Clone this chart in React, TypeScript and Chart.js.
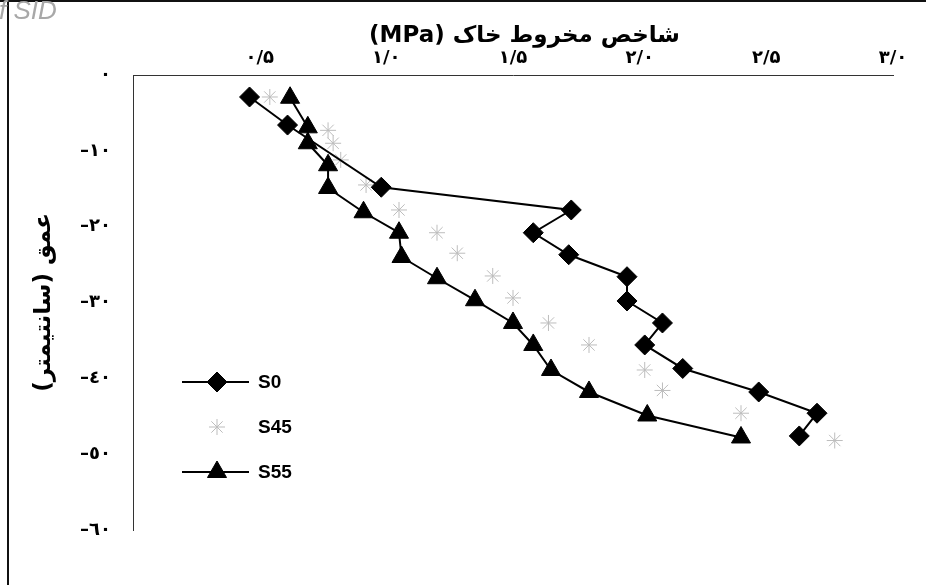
import React, { useEffect, useRef } from 'react';
import { Chart, registerables } from 'chart.js';
import { drawPoint } from 'chart.js/helpers';

Chart.register(...registerables);

const seriesNames = ['S0', 'S45', 'S55'];

const s0Depth = [-2.9, -6.6, -14.8, -17.8, -20.8, -23.7, -26.6, -29.8, -32.7, -35.6, -38.7, -41.8, -44.6, -47.6];
const s0Resistance = [0.46, 0.61, 0.98, 1.73, 1.58, 1.72, 1.95, 1.95, 2.09, 2.02, 2.17, 2.47, 2.7, 2.63];

const s45Depth = [-2.9, -7.3, -9.0, -11.2, -14.5, -17.8, -20.8, -23.5, -26.5, -29.4, -32.7, -35.6, -38.9, -41.6, -44.6, -48.2];
const s45Resistance = [0.54, 0.77, 0.79, 0.82, 0.92, 1.05, 1.2, 1.28, 1.42, 1.5, 1.64, 1.8, 2.02, 2.09, 2.4, 2.77];

const s55Depth = [-3.0, -6.9, -9.0, -11.9, -14.9, -18.1, -20.8, -24.0, -26.8, -29.7, -32.7, -35.6, -38.9, -41.8, -44.9, -47.8];
const s55Resistance = [0.62, 0.69, 0.69, 0.77, 0.77, 0.91, 1.05, 1.06, 1.2, 1.35, 1.5, 1.58, 1.65, 1.8, 2.03, 2.4];

const xTickLabels = ['', '۰/۵', '۱/۰', '۱/۵', '۲/۰', '۲/۵', '۳/۰'];
const yTickLabels = ['–٦٠', '–٥٠', '–٤٠', '–٣٠', '–٢٠', '–١٠', '٠'];

const xTitle = '\u2003(MPa) شاخص مخروط خاک';
const yTitle = '\u200Fعمق (سانتیمتر)\u200F';

const toPoints = (xs: number[], ys: number[]) => xs.map((x, i) => ({ x, y: ys[i] }));

const decorPlugin = {
  id: 'decor',
  beforeDraw(chart: any) {
    const { ctx, width, height } = chart;
    ctx.save();
    ctx.fillStyle = '#fff';
    ctx.fillRect(0, 0, width, height);
    ctx.strokeStyle = '#111';
    ctx.lineWidth = 2;
    ctx.beginPath();
    ctx.moveTo(8, 0);
    ctx.lineTo(8, height);
    ctx.moveTo(0, 1);
    ctx.lineTo(width, 1);
    ctx.stroke();
    ctx.fillStyle = '#a8a8a8';
    ctx.font = 'italic 26px "Liberation Sans Narrow", "Liberation Sans", sans-serif';
    ctx.textBaseline = 'alphabetic';
    ctx.fillText('f SID', -1, 19);
    ctx.restore();
  },
};

const legendPlugin = {
  id: 'insideLegend',
  afterDatasetsDraw(chart: any) {
    const { ctx, chartArea } = chart;
    const x0 = chartArea.left + 49;
    const x1 = chartArea.left + 116;
    const xm = chartArea.left + 84;
    const xt = chartArea.left + 125;
    chart.data.datasets.forEach((ds: any, i: number) => {
      const y = chartArea.top + 307 + i * 45;
      ctx.save();
      if (ds.showLine !== false) {
        ctx.strokeStyle = ds.borderColor;
        ctx.lineWidth = ds.borderWidth;
        ctx.beginPath();
        ctx.moveTo(x0, y);
        ctx.lineTo(x1, y);
        ctx.stroke();
      }
      ctx.fillStyle = ds.pointBackgroundColor;
      ctx.strokeStyle = ds.pointBorderColor;
      ctx.lineWidth = ds.pointBorderWidth;
      drawPoint(ctx, { pointStyle: ds.pointStyle, radius: ds.pointRadius, rotation: 0, borderWidth: ds.pointBorderWidth } as any, xm, y);
      ctx.fillStyle = '#000';
      ctx.font = 'bold 19px "Liberation Sans", Arial, sans-serif';
      ctx.textAlign = 'left';
      ctx.textBaseline = 'middle';
      ctx.fillText(ds.label, xt, y + 1);
      ctx.restore();
    });
  },
};

export default function App() {
  const canvasRef = useRef<HTMLCanvasElement | null>(null);

  useEffect(() => {
    if (!canvasRef.current) return;
    const chart = new Chart(canvasRef.current, {
      type: 'scatter',
      data: {
        datasets: [
          {
            label: seriesNames[0],
            data: toPoints(s0Resistance, s0Depth),
            showLine: true,
            borderColor: '#000',
            borderWidth: 2,
            pointStyle: 'rectRot',
            pointRadius: 10,
            pointHoverRadius: 10,
            pointBackgroundColor: '#000',
            pointBorderColor: '#000',
            pointBorderWidth: 1,
          },
          {
            label: seriesNames[1],
            data: toPoints(s45Resistance, s45Depth),
            showLine: false,
            borderColor: '#c0c0c0',
            borderWidth: 1,
            pointStyle: 'star',
            pointRadius: 8,
            pointHoverRadius: 8,
            pointBackgroundColor: '#c0c0c0',
            pointBorderColor: '#bdbdbd',
            pointBorderWidth: 1,
          },
          {
            label: seriesNames[2],
            data: toPoints(s55Resistance, s55Depth),
            showLine: true,
            borderColor: '#000',
            borderWidth: 2,
            pointStyle: 'triangle',
            pointRadius: 11,
            pointHoverRadius: 11,
            pointBackgroundColor: '#000',
            pointBorderColor: '#000',
            pointBorderWidth: 1,
          },
        ],
      },
      options: {
        responsive: false,
        animation: false,
        layout: { padding: { top: 0, left: 0, right: 33, bottom: 55 } },
        plugins: {
          legend: { display: false },
          tooltip: { enabled: false },
        },
        elements: { line: { tension: 0 } },
        scales: {
          x: {
            type: 'linear',
            position: 'top',
            min: 0,
            max: 3,
            ticks: {
              stepSize: 0.5,
              autoSkip: false,
              maxRotation: 0,
              padding: 6,
              color: '#000',
              font: { family: '"DejaVu Sans", sans-serif', size: 18, weight: 'bold' },
              callback: (v: any) => xTickLabels[Math.round(Number(v) / 0.5)] ?? '',
            },
            grid: { display: false, drawTicks: false },
            border: { display: true, color: '#333', width: 1 },
            title: {
              display: true,
              text: xTitle,
              color: '#000',
              font: { family: '"DejaVu Sans", sans-serif', size: 23, weight: 'bold' },
              padding: { top: 22, bottom: 0 },
            },
            afterFit: (scale: any) => {
              scale.height = 75;
            },
          },
          y: {
            type: 'linear',
            min: -60,
            max: 0,
            ticks: {
              stepSize: 10,
              padding: 22,
              color: '#000',
              font: { family: '"DejaVu Sans", sans-serif', size: 18, weight: 'bold' },
              callback: (v: any) => yTickLabels[Math.round((Number(v) + 60) / 10)] ?? '',
            },
            grid: { display: false, drawTicks: false },
            border: { display: true, color: '#333', width: 1 },
            title: {
              display: true,
              text: yTitle,
              color: '#000',
              font: { family: '"DejaVu Sans", sans-serif', size: 23, weight: 'bold' },
              padding: { top: 30, bottom: 0 },
            },
            afterFit: (scale: any) => {
              scale.width = 133;
            },
          },
        },
      },
      plugins: [decorPlugin, legendPlugin],
    } as any);
    return () => chart.destroy();
  }, []);

  return (
    <div style={{ position: 'absolute', left: 0, top: 0, width: 926, height: 585, background: '#fff' }}>
      <canvas ref={canvasRef} width={926} height={585} style={{ display: 'block', width: 926, height: 585 }} />
    </div>
  );
}
